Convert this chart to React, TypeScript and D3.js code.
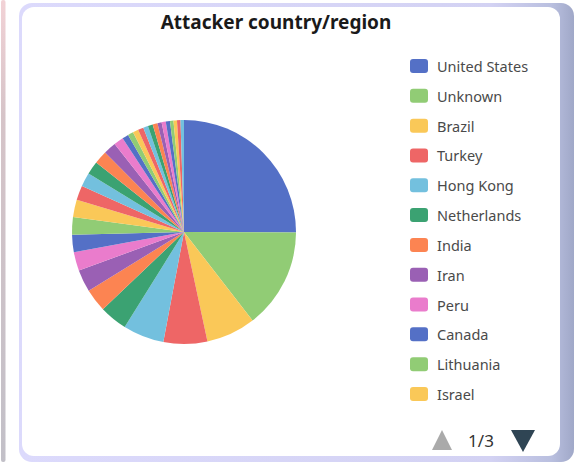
import React from "react";
import * as d3 from "d3";

const countries = [
  "United States", "Unknown", "Brazil", "Turkey", "Hong Kong", "Netherlands",
  "India", "Iran", "Peru", "Canada", "Lithuania", "Israel",
  "Germany", "Russia", "China", "France", "Vietnam", "Indonesia",
  "United Kingdom", "Singapore", "South Korea", "Japan", "Argentina", "Mexico",
  "Thailand", "Poland", "Ukraine", "Italy", "Spain", "Colombia", "Romania", "Bulgaria",
];
const attacks = [
  250, 144, 71, 63, 59, 40,
  33, 32, 27, 25, 25, 25,
  21, 20, 19, 19, 18, 14,
  9, 8, 8, 8, 7, 7,
  7, 6, 6, 6, 5, 5, 5, 5,
];
const palette = ["#5470c6", "#91cc75", "#fac858", "#ee6666", "#73c0de", "#3ba272", "#fc8452", "#9a60b4", "#ea7ccc"];
const titleText = "Attacker country/region";
const pageSize = 12;

export default function App() {
  const W = 574, H = 465;
  const cx = 184, cy = 232, r = 112;
  const data = countries.map((c, i) => ({ name: c, value: attacks[i], idx: i }));
  const pie = d3.pie<any>().sort(null).value((d) => d.value);
  const arcs = pie(data);
  const arcGen = d3.arc<any>().innerRadius(0).outerRadius(r);
  const color = d3.scaleOrdinal<number, string>().domain(d3.range(countries.length)).range(palette);
  const pageItems = data.slice(0, pageSize);
  const totalPages = Math.ceil(countries.length / pageSize);
  const legendY = d3.scaleLinear().domain([0, pageSize - 1]).range([66, 394]);
  const font = "'Noto Sans', 'Open Sans', sans-serif";

  return (
    <svg width={W} height={H} style={{ position: "absolute", left: 0, top: 0, background: "#fff" }}
      fontFamily={font}>
      <defs>
        <linearGradient id="frame" x1="0" y1="0" x2="1" y2="0">
          <stop offset="0" stopColor="#dcdafc" />
          <stop offset="0.85" stopColor="#d3d2f3" />
          <stop offset="0.96" stopColor="#b9bfdf" />
          <stop offset="1" stopColor="#a0a8c8" />
        </linearGradient>
        <linearGradient id="leftEl" x1="0" y1="0" x2="0" y2="1">
          <stop offset="0" stopColor="#f2d2d6" />
          <stop offset="0.25" stopColor="#d6c4c8" />
          <stop offset="1" stopColor="#c2c0c8" />
        </linearGradient>
      </defs>
      <rect x={1} y={0} width={4.5} height={462} rx={2} fill="url(#leftEl)" />
      <rect x={19} y={3} width={555} height={459} rx={13} fill="url(#frame)" />
      <rect x={22} y={7} width={538} height={449} rx={12} fill="#fff" />

      <text x={276} y={22} textAnchor="middle" dominantBaseline="central"
        fontSize={19} fontWeight="bold" fill="#1a1a1a">{titleText}</text>

      <g transform={`translate(${cx},${cy})`}>
        {arcs.map((a, i) => (
          <path key={i} d={arcGen(a) as string} fill={color(i)} />
        ))}
      </g>

      <g>
        {pageItems.map((d, i) => (
          <g key={d.name} transform={`translate(410,${legendY(i)})`}>
            <rect x={0} y={-7} width={18} height={14} rx={3} fill={color(d.idx)} />
            <text x={27} y={0} dominantBaseline="central" fontSize={14.5} fill="#4a4a4a">{d.name}</text>
          </g>
        ))}
      </g>

      <g transform="translate(0,440)">
        <path d="M432,10 L442,-10 L452,10 Z" fill="#aaa" />
        <text x={481} y={0} textAnchor="middle" dominantBaseline="central" fontSize={17} fill="#333">{`1/${totalPages}`}</text>
        <path d="M511,-10 L535,-10 L523,12 Z" fill="#2f4554" />
      </g>
    </svg>
  );
}
